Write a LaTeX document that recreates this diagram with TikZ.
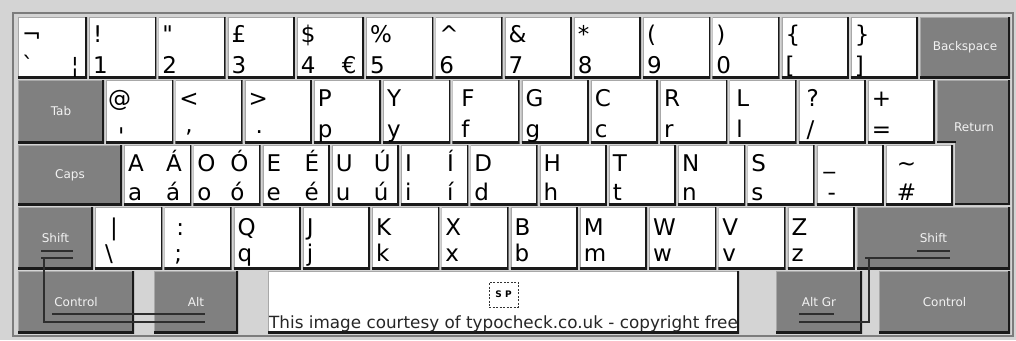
\documentclass[tikz,border=0pt]{standalone}
\usepackage{fontspec}
\setmainfont{DejaVu Sans}
\usetikzlibrary{positioning}

\definecolor{bgray}{HTML}{D4D4D4}
\definecolor{framegray}{HTML}{7C7C7C}
\definecolor{keygray}{HTML}{808080}
\definecolor{keydark}{HTML}{1A1A1A}
\definecolor{keylight}{HTML}{A8A8A8}
\definecolor{capgray}{HTML}{F2F2F2}
\definecolor{linedark}{HTML}{2E2E2E}

\newcommand\keyfont{\fontsize{23}{24}\selectfont}
\newcommand\modfont{\fontsize{12}{13}\selectfont}

\begin{document}
\begin{tikzpicture}[
    x=1pt, y=-1pt,
    key/.style={rectangle, fill=white, minimum width=67.25pt, inner sep=0pt, outer sep=0pt,
        path picture={
            \draw[keylight, line width=2pt] (path picture bounding box.south west) |- (path picture bounding box.north east);
            \draw[keydark, line width=3.5pt] (path picture bounding box.south west) -| (path picture bounding box.north east);
        }},
    modkey/.style={key, fill=keygray, text=capgray, font=\modfont},
    hi/.style={anchor=base west, inner sep=0pt, xshift=4pt, yshift=-26pt, font=\keyfont},
    lo/.style={anchor=base west, inner sep=0pt, xshift=4pt, yshift=6pt, font=\keyfont},
    hr/.style={hi, xshift=38pt},
    lr/.style={lo, xshift=38pt},
    markline/.style={draw=linedark, line width=2pt}
]
\useasboundingbox (0,0) rectangle (1016,340);
\fill[bgray] (0,0) rectangle (1016,340);
\draw[framegray, line width=2pt] (13,13) rectangle (1013,336);

% -------- Row 1 --------
\begin{scope}[key/.append style={minimum height=61pt}, hi/.append style={yshift=1pt}, lo/.append style={yshift=-1.5pt}]
\node[key, minimum width=69pt, anchor=north west,
    label={[hi]north west:{¬}}, label={[lo]south west:{\textasciigrave}},
    label={[lo, xshift=49pt]south west:{¦}}] (kgrave) at (18,17) {};
\node[key, right=2pt of kgrave, label={[hi]north west:{!}}, label={[lo]south west:{1}}] (k1) {};
\node[key, right=2pt of k1, label={[hi]north west:{\textquotedbl}}, label={[lo]south west:{2}}] (k2) {};
\node[key, right=2pt of k2, label={[hi]north west:{£}}, label={[lo]south west:{3}}] (k3) {};
\node[key, right=2pt of k3, label={[hi]north west:{\$}}, label={[lo]south west:{4}},
    label={[lo, xshift=41pt]south west:{€}}] (k4) {};
\node[key, right=2pt of k4, label={[hi]north west:{\%}}, label={[lo]south west:{5}}] (k5) {};
\node[key, right=2pt of k5, label={[hi]north west:{\textasciicircum}}, label={[lo]south west:{6}}] (k6) {};
\node[key, right=2pt of k6, label={[hi]north west:{\&}}, label={[lo]south west:{7}}] (k7) {};
\node[key, right=2pt of k7, label={[hi]north west:{*}}, label={[lo]south west:{8}}] (k8) {};
\node[key, right=2pt of k8, label={[hi]north west:{(}}, label={[lo]south west:{9}}] (k9) {};
\node[key, right=2pt of k9, label={[hi]north west:{)}}, label={[lo]south west:{0}}] (k0) {};
\node[key, right=2pt of k0, label={[hi]north west:{\{}}, label={[lo]south west:{[}}] (klbrack) {};
\node[key, right=2pt of klbrack, label={[hi]north west:{\}}}, label={[lo]south west:{]}}] (krbrack) {};
\node[modkey, minimum width=90pt, right=2pt of krbrack] (kback) {Backspace};
\end{scope}

% -------- Row 2 --------
\begin{scope}[key/.append style={minimum height=63pt}]
\node[modkey, minimum width=86pt, anchor=north west] (ktab) at (18,80) {Tab};
\node[key, right=2pt of ktab, label={[hi, xshift=-2pt]north west:{@}},
    label={[lo, xshift=8pt, yshift=-7pt]south west:{\textquotesingle}}] (kat) {};
\node[key, right=2pt of kat, label={[hi]north west:{<}}, label={[lo, xshift=6pt, yshift=5pt]south west:{,}}] (kcomma) {};
\node[key, right=2pt of kcomma, label={[hi]north west:{>}}, label={[lo, xshift=7pt, yshift=4pt]south west:{.}}] (kperiod) {};
\node[key, right=2pt of kperiod, label={[hi]north west:{P}}, label={[lo]south west:{p}}] (kp) {};
\node[key, right=2pt of kp, label={[hi]north west:{Y}}, label={[lo]south west:{y}}] (ky) {};
\node[key, right=2pt of ky, label={[hi, xshift=5pt]north west:{F}}, label={[lo, xshift=5pt]south west:{f}}] (kf) {};
\node[key, right=2pt of kf, label={[hi]north west:{G}}, label={[lo]south west:{g}}] (kg) {};
\node[key, right=2pt of kg, label={[hi]north west:{C}}, label={[lo]south west:{c}}] (kc) {};
\node[key, right=2pt of kc, label={[hi]north west:{R}}, label={[lo]south west:{r}}] (kr) {};
\node[key, right=2pt of kr, label={[hi, xshift=3pt]north west:{L}}, label={[lo, xshift=3pt]south west:{l}}] (kl) {};
\node[key, right=2pt of kl, label={[hi, xshift=4pt]north west:{?}}, label={[lo, xshift=4pt]south west:{/}}] (kslash) {};
\node[key, right=2pt of kslash, label={[hi]north west:{+}}, label={[lo]south west:{=}}] (kequal) {};
\end{scope}

% Return key (L-shaped)
\fill[keygray] (937,80) -- (1010,80) -- (1010,205) -- (955,205) -- (955,143) -- (937,143) -- cycle;
\draw[keylight, line width=1pt] (937.5,143) -- (937.5,80.5) -- (1010,80.5);
\draw[keydark, line width=2pt] (1009,80) -- (1009,204) -- (955,204);
\draw[keydark, line width=2pt] (955,143) -- (955,142) -- (937,142);
\node[text=capgray, font=\modfont] (kreturn) at (974,127) {Return};

% -------- Row 3 --------
\begin{scope}[key/.append style={minimum height=60pt}, lo/.append style={yshift=-1pt}]
\node[modkey, minimum width=104pt, anchor=north west] (kcaps) at (18,145) {Caps};
\node[key, right=2pt of kcaps, label={[hi]north west:{A}}, label={[lo]south west:{a}},
    label={[hr]north west:{Á}}, label={[lr]south west:{á}}] (ka) {};
\node[key, right=2pt of ka, label={[hi]north west:{O}}, label={[lo]south west:{o}},
    label={[hr, xshift=-5pt]north west:{Ó}}, label={[lr, xshift=-5pt]south west:{ó}}] (ko) {};
\node[key, right=2pt of ko, label={[hi]north west:{E}}, label={[lo]south west:{e}},
    label={[hr]north west:{É}}, label={[lr]south west:{é}}] (ke) {};
\node[key, right=2pt of ke, label={[hi]north west:{U}}, label={[lo]south west:{u}},
    label={[hr]north west:{Ú}}, label={[lr]south west:{ú}}] (ku) {};
\node[key, right=2pt of ku, label={[hi]north west:{I}}, label={[lo]south west:{i}},
    label={[hr, xshift=4pt]north west:{Í}}, label={[lr, xshift=4pt]south west:{í}}] (ki) {};
\node[key, right=2pt of ki, label={[hi]north west:{D}}, label={[lo]south west:{d}}] (kd) {};
\node[key, right=2pt of kd, label={[hi]north west:{H}}, label={[lo]south west:{h}}] (kh) {};
\node[key, right=2pt of kh, label={[hi]north west:{T}}, label={[lo]south west:{t}}] (kt) {};
\node[key, right=2pt of kt, label={[hi]north west:{N}}, label={[lo]south west:{n}}] (kn) {};
\node[key, right=2pt of kn, label={[hi]north west:{S}}, label={[lo]south west:{s}}] (ks) {};
\node[key, right=2pt of ks, label={[hi, xshift=3pt, yshift=3pt]north west:{\_}},
    label={[lo, xshift=7pt]south west:{-}}] (kdash) {};
\node[key, right=2pt of kdash, label={[hi, xshift=7pt]north west:{\textasciitilde}},
    label={[lo, xshift=7pt]south west:{\#}}] (khash) {};
\end{scope}

% -------- Row 4 --------
\begin{scope}[key/.append style={minimum height=62pt}, hi/.append style={yshift=-2pt}, lo/.append style={yshift=2pt}]
\node[modkey, minimum width=75pt, anchor=north west] (klshift) at (18,207) {Shift};
\node[key, right=2pt of klshift, label={[hi, xshift=11pt]north west:{\textbar}},
    label={[lo, xshift=6pt]south west:{\textbackslash}}] (kbslash) {};
\node[key, right=2pt of kbslash, label={[hi, xshift=8pt]north west:{:}}, label={[lo, xshift=6pt]south west:{;}}] (ksemi) {};
\node[key, right=2pt of ksemi, label={[hi]north west:{Q}}, label={[lo]south west:{q}}] (kq) {};
\node[key, right=2pt of kq, label={[hi]north west:{J}}, label={[lo]south west:{j}}] (kj) {};
\node[key, right=2pt of kj, label={[hi]north west:{K}}, label={[lo]south west:{k}}] (kk) {};
\node[key, right=2pt of kk, label={[hi]north west:{X}}, label={[lo]south west:{x}}] (kx) {};
\node[key, right=2pt of kx, label={[hi]north west:{B}}, label={[lo]south west:{b}}] (kb) {};
\node[key, right=2pt of kb, label={[hi]north west:{M}}, label={[lo]south west:{m}}] (km) {};
\node[key, right=2pt of km, label={[hi]north west:{W}}, label={[lo]south west:{w}}] (kw) {};
\node[key, right=2pt of kw, label={[hi]north west:{V}}, label={[lo]south west:{v}}] (kv) {};
\node[key, right=2pt of kv, label={[hi]north west:{Z}}, label={[lo]south west:{z}}] (kz) {};
\node[modkey, minimum width=153.25pt, right=2pt of kz] (krshift) {Shift};
\end{scope}

% -------- Row 5 --------
\begin{scope}[key/.append style={minimum height=62pt, anchor=north west}]
\node[modkey, minimum width=116pt] (klctrl) at (18,271) {Control};
\node[modkey, minimum width=84pt] (kalt) at (154,271) {Alt};
\node[key, minimum width=471pt] (kspace) at (268,271) {};
\node[modkey, minimum width=86pt] (kaltgr) at (776,271) {Alt Gr};
\node[modkey, minimum width=131pt] (krctrl) at (879,271) {Control};
\end{scope}

\node[draw=black!80, dash pattern=on 2pt off 1.5pt, minimum width=29pt, minimum height=25pt,
    inner sep=0pt, font=\fontsize{9}{9}\selectfont\bfseries] (spmark) at (503.5,294.5) {S P};
\node[anchor=base west, inner sep=0pt, font=\fontsize{16.8}{17}\selectfont, text=black!85] (credit)
    at (269,328) {This image courtesy of typocheck.co.uk - copyright free};

% -------- Shift markings --------
\draw[markline] (41,251) -- (73,251);
\draw[markline] (41,258) -- (73,258);
\draw[markline] (44,258) -- (44,322) -- (205,322);
\draw[markline] (52,314) -- (205,314);
\draw[markline] (917,251) -- (950,251);
\draw[markline] (865,258) -- (950,258);
\draw[markline] (869,258) -- (869,322) -- (799,322);
\draw[markline] (799,314) -- (834,314);

\end{tikzpicture}
\end{document}
